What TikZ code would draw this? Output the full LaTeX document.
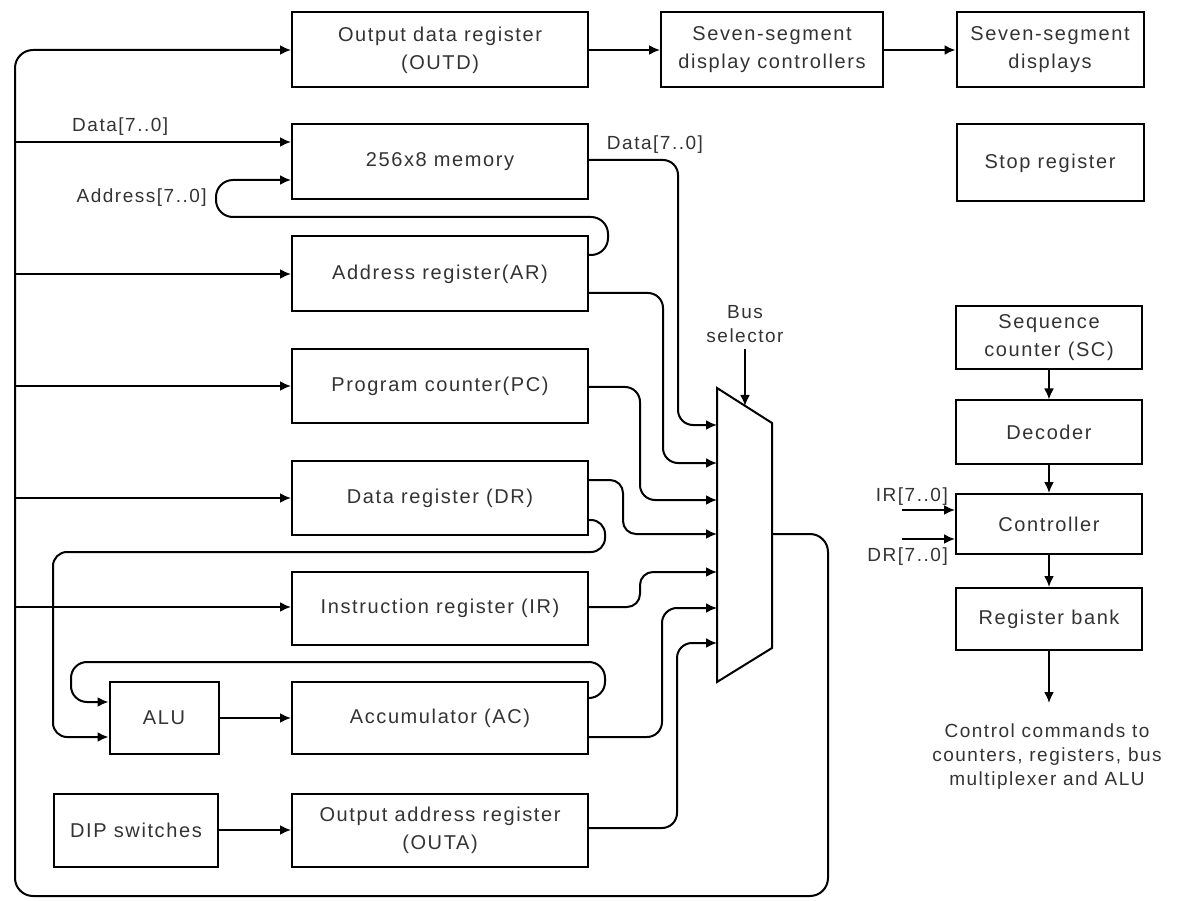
\documentclass[tikz,border=0pt]{standalone}
\usepackage{fontspec}
\setmainfont{Liberation Sans}[LetterSpace=8]
\usetikzlibrary{arrows.meta}
\begin{document}
\begin{tikzpicture}[x=1pt,y=-1pt,
  box/.style={draw,line width=2pt,minimum width=296pt,minimum height=75pt,inner sep=0pt,align=center,font=\fontsize{20}{28}\selectfont,text=black!80},
  sbox/.style={box,minimum width=187pt},
  arr/.style={line width=2pt,-{Latex[length=11pt,width=10pt]}},
  wire/.style={line width=2pt},
  lbl/.style={font=\fontsize{19}{24}\selectfont,text=black!80,inner sep=0pt,align=center},
  rc/.style={rounded corners=15pt}]
\useasboundingbox (0,0) rectangle (1184,901);
\fill[white] (0,0) rectangle (1184,901);

% left column boxes
\node[box] (outd) at (440,50) {Output data register\\(OUTD)};
\node[box] (mem)  at (440,162) {256x8 memory};
\node[box] (ar)   at (440,274) {Address register(AR)};
\node[box,minimum height=73pt] (pc) at (440,386) {Program counter(PC)};
\node[box,minimum height=74pt] (dr) at (440,498) {Data register (DR)};
\node[box,minimum height=73pt] (ir) at (440,608) {Instruction register (IR)};
\node[box,minimum width=109pt,minimum height=72pt] (alu) at (164,718) {ALU};
\node[box,minimum height=72pt] (ac) at (440,718) {Accumulator (AC)};
\node[box,minimum width=164pt,minimum height=73pt] (dip) at (136,830) {DIP switches};
\node[box,minimum height=73pt] (outa) at (440,830) {Output address register\\(OUTA)};

% top right boxes
\node[box,minimum width=222pt] (ssc) at (772,50) {Seven-segment\\display controllers};
\node[sbox] (ssd) at (1050,50) {Seven-segment\\displays};
\node[sbox,minimum height=77pt] (stop) at (1050,163) {Stop register};

% control column
\node[box,minimum width=186pt,minimum height=63pt] (sc) at (1049,338) {Sequence\\counter (SC)};
\node[box,minimum width=186pt,minimum height=63pt] (dec) at (1049,432) {Decoder};
\node[box,minimum width=186pt,minimum height=60pt] (ctl) at (1049,524) {Controller};
\node[box,minimum width=186pt,minimum height=62pt] (bank) at (1049,619) {Register bank};
\node[lbl,anchor=north] (cmd) at (1047,724) {Control commands to\\counters, registers, bus\\multiplexer and ALU};
\coordinate (cmdin) at (1049,703);
\draw[arr] (sc.south) -- (dec.north);
\draw[arr] (dec.south) -- (ctl.north);
\draw[arr] (ctl.south) -- (bank.north);
\draw[arr] (bank.south) -- (cmdin);
\coordinate (irin) at (902,510);
\coordinate (drin) at (902,539);
\draw[arr] (irin) -- (irin -| ctl.west);
\draw[arr] (drin) -- (drin -| ctl.west);
\node[lbl,anchor=east] (irl) at (948,497) {IR[7..0]};
\node[lbl,anchor=east] (drl) at (948,557) {DR[7..0]};

% top chain
\draw[arr] (outd.east) -- (ssc.west);
\draw[arr] (ssc.east) -- (ssd.west);

% bus selector (multiplexer)
\coordinate (mxa) at (717,388);
\coordinate (mxb) at (772,423);
\coordinate (mxc) at (772,648);
\coordinate (mxd) at (717,682);
\draw[wire,line join=miter] (mxa) -- (mxb) -- (mxc) -- (mxd) -- cycle;
\node[lbl] (bsl) at (745,324) {Bus\\selector};
\coordinate (bsin) at (745,406);
\draw[arr] (bsl.south) ++(0,6) -- (bsin);
\coordinate (m1) at (717,425);
\coordinate (m2) at (717,463);
\coordinate (m3) at (717,500);
\coordinate (m4) at (717,534);
\coordinate (m5) at (717,572);
\coordinate (m6) at (717,608);
\coordinate (m7) at (717,643);
\coordinate (mo) at (772,534);

% main bus
\draw[arr,rounded corners=18pt] (mo) -- (828,534) -- (828,896) -- (15,896) -- (15,50) -- (outd.west);
\coordinate (t1) at (15,142);
\coordinate (t2) at (15,274);
\coordinate (t3) at (15,386);
\coordinate (t4) at (15,498);
\coordinate (t5) at (15,607);
\draw[arr] (t1) -- (t1 -| mem.west);
\draw[arr] (t2) -- (t2 -| ar.west);
\draw[arr] (t3) -- (t3 -| pc.west);
\draw[arr] (t4) -- (t4 -| dr.west);
\draw[arr] (t5) -- (t5 -| ir.west);
\node[lbl,anchor=west] (dl) at (72,127) {Data[7..0]};
\node[lbl,anchor=east] (adl) at (207,198) {Address[7..0]};

% address loop
\draw[arr,rounded corners=17pt] (ar.east |- 0,255) -- (608,255) -- (608,217) -- (216,217) -- (216,180) -- (mem.west |- 0,180);

% inputs to the bus selector
\draw[arr,rc] (mem.east |- 0,160) -| (678,425) -- (m1);
\node[lbl] (dl2) at (655,145) {Data[7..0]};
\draw[arr,rc] (ar.east |- 0,293) -| (663,463) -- (m2);
\draw[arr,rc] (pc.east |- 0,387) -| (640,500) -- (m3);
\draw[arr,rounded corners=13pt] (dr.east |- 0,480) -| (623,534) -- (m4);
\draw[arr,rounded corners=13pt] (ir.east |- 0,607) -| (640,572) -- (m5);
\draw[arr,rc] (ac.east |- 0,737) -| (662,608) -- (m6);
\draw[arr,rc] (outa.east |- 0,828) -| (677,643) -- (m7);

% feedback to ALU
\draw[arr,rounded corners=14pt] (dr.east |- 0,520) -- (605,520) -- (605,552) -- (53,552) -- (53,737) -- (alu.west |- 0,737);
\draw[arr,rounded corners=16pt] (ac.east |- 0,698) -- (605,698) -- (605,662) -- (71,662) -- (71,702) -- (alu.west |- 0,702);
\draw[arr] (alu.east) -- (ac.west);
\draw[arr] (dip.east |- 0,830) -- (outa.west |- 0,830);
\end{tikzpicture}
\end{document}
